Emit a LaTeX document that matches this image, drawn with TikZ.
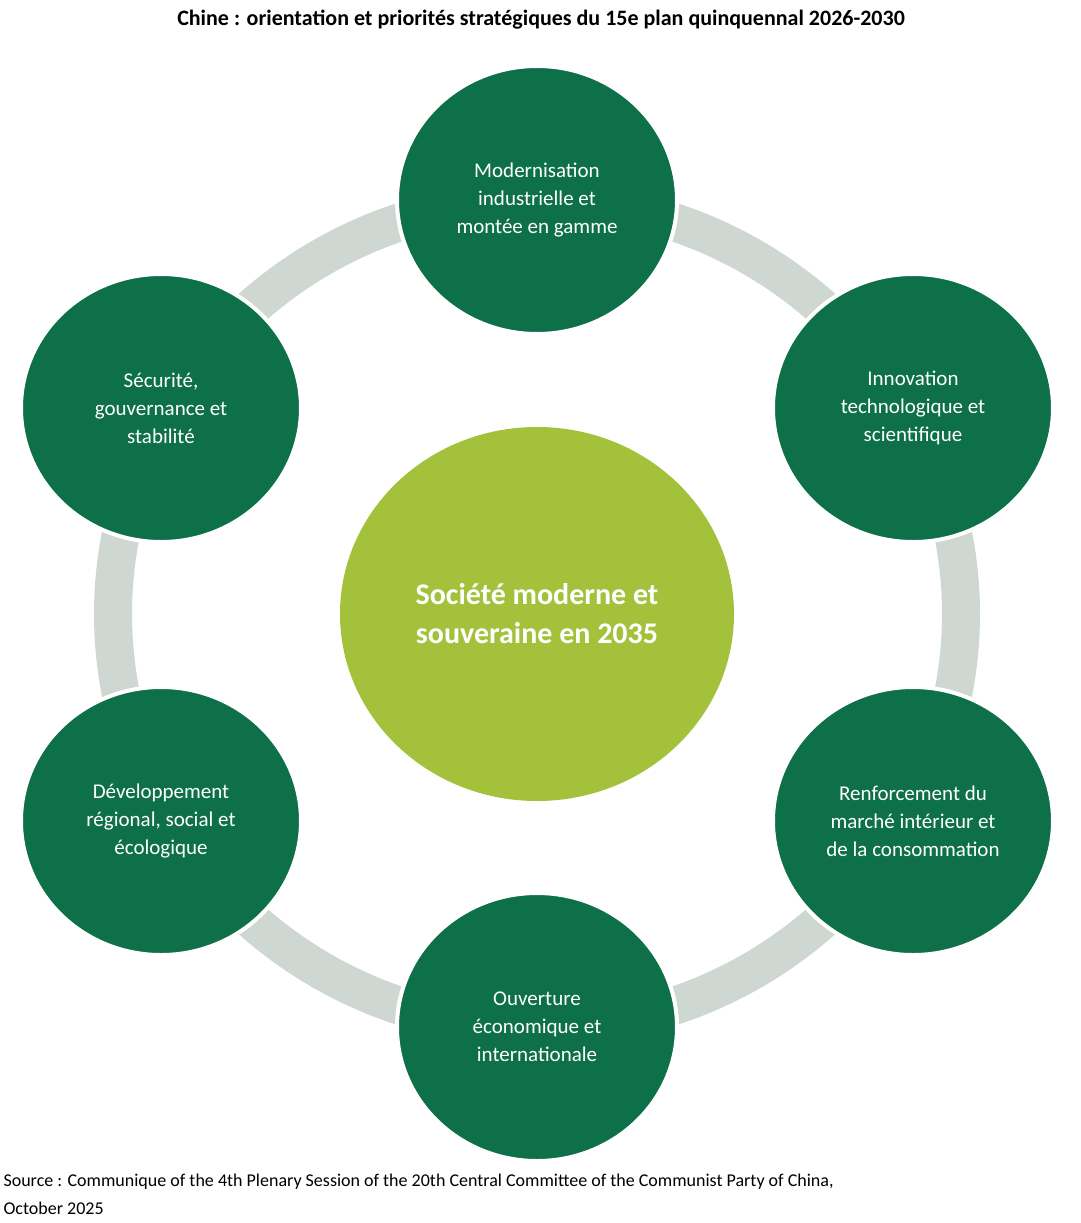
\documentclass[tikz,border=0pt]{standalone}
\usepackage{fontspec}
\usetikzlibrary{shapes.geometric}
\setmainfont{Carlito}
\definecolor{dg}{HTML}{0D7049}
\definecolor{lg}{HTML}{A3C13A}
\definecolor{ring}{HTML}{CFD7D2}
\begin{document}
\begin{tikzpicture}[x=1pt,y=-1pt,
  sat/.style={ellipse,fill=dg,draw=white,line width=4pt,minimum width=280pt,minimum height=268pt,text=white,align=center,font=\fontsize{21}{28}\selectfont,inner sep=0pt}]
\useasboundingbox (0,0) rectangle (1081,1223);
\node[font=\bfseries\fontsize{22}{26}\selectfont] (title) at (541,20) {Chine : orientation et priorités stratégiques du 15e plan quinquennal 2026-2030};
\node[ellipse,draw=ring,line width=38pt,minimum width=848pt,minimum height=828pt] (r) at (537,614) {};
\node[sat] (n1) at (537,200) {Modernisation\\industrielle et\\montée en gamme};
\node[sat] (n2) at (913,408) {Innovation\\technologique et\\scientifique};
\node[sat] (n3) at (913,821) {Renforcement du\\marché intérieur et\\de la consommation};
\node[sat] (n4) at (537,1027) {Ouverture\\économique et\\internationale};
\node[sat] (n5) at (161,821) {Développement\\régional, social et\\écologique};
\node[sat] (n6) at (161,408) {Sécurité,\\gouvernance et\\stabilité};
\node[ellipse,fill=lg,minimum width=394pt,minimum height=374pt,text=white,align=center,font=\bfseries\fontsize{30}{39}\selectfont] (c) at (537,614) {Société moderne et\\souveraine en 2035};
\node[anchor=west,align=left,font=\fontsize{18}{28}\selectfont] (src) at (0,1194) {Source : Communique of the 4th Plenary Session of the 20th Central Committee of the Communist Party of China,\\October 2025};
\end{tikzpicture}
\end{document}
